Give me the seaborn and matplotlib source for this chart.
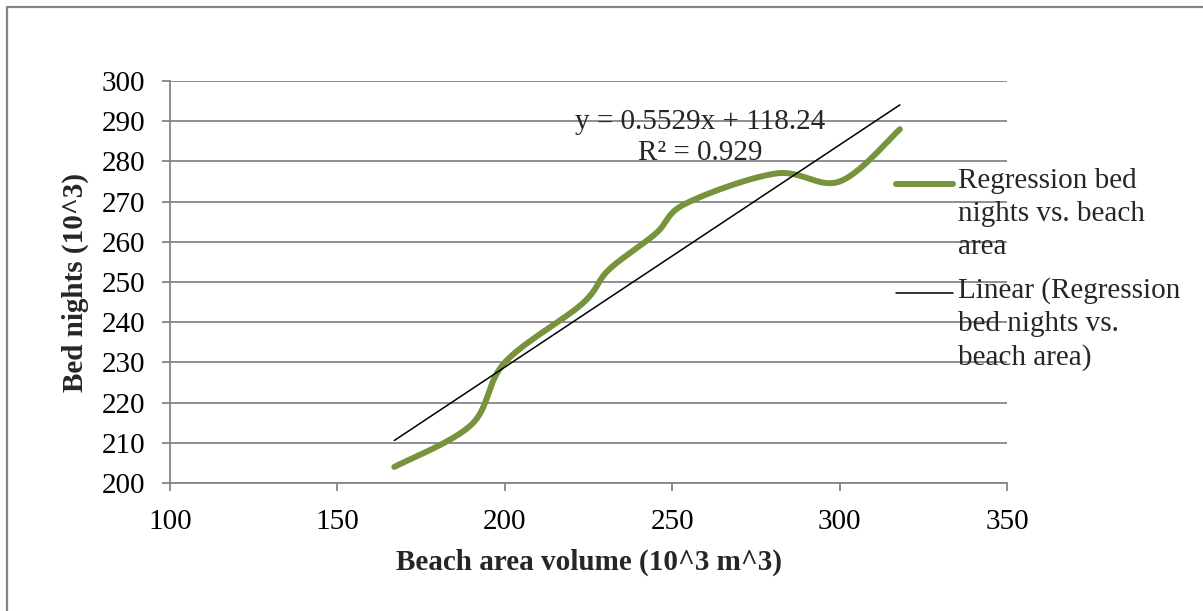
import numpy as np
import pandas as pd
import matplotlib
matplotlib.use("Agg")
import matplotlib.pyplot as plt
import seaborn as sns
from matplotlib.lines import Line2D

# ---- data ----
beach_area = [167, 190, 200, 223, 231, 245, 254, 281, 300, 318]
bed_nights = [204, 214.5, 230, 244.5, 253, 262, 269.5, 277, 275, 288]
slope = 0.5529
intercept = 118.24
r_squared = 0.929
x_ticks = [100, 150, 200, 250, 300, 350]
y_ticks = [200, 210, 220, 230, 240, 250, 260, 270, 280, 290, 300]
series_label = "Regression bed\nnights vs. beach\narea"
trend_label = "Linear (Regression\nbed nights vs.\nbeach area)"
x_label = "Beach area volume (10^3 m^3)"
y_label = "Bed nights (10^3)"

GREEN = "#77933C"
GRID = "#868686"
FS = 21


def smooth_curve(xs, ys, n=60):
    """Excel-like smoothed line (Catmull-Rom Bezier through the points)."""
    p = np.column_stack([xs, ys]).astype(float)
    out = []
    for i in range(len(p) - 1):
        p0 = p[i - 1] if i > 0 else p[i]
        p1 = p[i]
        p2 = p[i + 1]
        p3 = p[i + 2] if i + 2 < len(p) else p[i + 1]
        c1 = p1 + (p2 - p0) / 6.0
        c2 = p2 - (p3 - p1) / 6.0
        t = np.linspace(0, 1, n)[:, None]
        seg = ((1 - t) ** 3) * p1 + 3 * ((1 - t) ** 2) * t * c1 + 3 * (1 - t) * t ** 2 * c2 + t ** 3 * p2
        out.append(seg if i == 0 else seg[1:])
    return np.vstack(out)


sns.set_theme(style="white")
plt.rcParams["font.family"] = ["Liberation Serif", "DejaVu Serif"]

fig = plt.figure(figsize=(12.03, 6.11), dpi=100)
fig.patch.set_facecolor("white")
ax = fig.add_axes([170 / 1203, 1 - 483 / 611, 837 / 1203, 402 / 611])

curve = smooth_curve(beach_area, bed_nights)
df_curve = pd.DataFrame({"x": curve[:, 0], "y": curve[:, 1]})
sns.lineplot(data=df_curve, x="x", y="y", sort=False, estimator=None, ax=ax,
             color=GREEN, linewidth=4.3, solid_capstyle="round", zorder=3)

tx = np.array([min(beach_area), max(beach_area)], dtype=float)
df_trend = pd.DataFrame({"x": tx, "y": slope * tx + intercept})
sns.lineplot(data=df_trend, x="x", y="y", ax=ax, color="black", linewidth=1.1, zorder=4)

ax.set_xlim(100, 350)
ax.set_ylim(200, 300)
ax.set_xticks(x_ticks)
ax.set_yticks(y_ticks)
ax.set_xticklabels([str(v) for v in x_ticks])
ax.set_yticklabels([str(v) for v in y_ticks])

ax.yaxis.grid(True, color=GRID, linewidth=1.3)
ax.xaxis.grid(False)
ax.set_axisbelow(True)
for s in ["top", "right"]:
    ax.spines[s].set_visible(False)
for s in ["left", "bottom"]:
    ax.spines[s].set_color(GRID)
    ax.spines[s].set_linewidth(1.3)

ax.tick_params(axis="y", which="major", direction="out", length=5.8, width=1.3,
               color=GRID, pad=12, labelsize=FS, labelcolor="black", left=True)
ax.tick_params(axis="x", which="major", direction="out", length=5.8, width=1.3,
               color=GRID, pad=13, labelsize=FS, labelcolor="black", bottom=True)

ax.set_xlabel(x_label, fontsize=FS, fontweight="bold")
ax.set_ylabel(y_label, fontsize=FS, fontweight="bold")
ax.xaxis.label.set_verticalalignment("center")
ax.yaxis.label.set_verticalalignment("center")
ax.xaxis.set_label_coords(0.5, -(562 - 483) / 402)
ax.yaxis.set_label_coords((75 - 170) / 837, 0.5)

# trendline equation
ax.text(700 / 1203, 1 - 122 / 611, f"y = {slope}x + {intercept}", transform=fig.transFigure,
        ha="center", va="center", fontsize=FS)
ax.text(700 / 1203, 1 - 153 / 611, f"R² = {r_squared}", transform=fig.transFigure,
        ha="center", va="center", fontsize=FS)

# legend (Excel style: handle aligned with first text line)
fig.add_artist(Line2D([896 / 1203, 953 / 1203], [1 - 184 / 611, 1 - 184 / 611],
                      transform=fig.transFigure, color=GREEN, linewidth=4.3, solid_capstyle="round"))
fig.add_artist(Line2D([896 / 1203, 953 / 1203], [1 - 293 / 611, 1 - 293 / 611],
                      transform=fig.transFigure, color="black", linewidth=1.1))
fig.text(958 / 1203, 1 - 168 / 611, series_label, ha="left", va="top", fontsize=FS,
         linespacing=1.35)
fig.text(958 / 1203, 1 - 277 / 611, trend_label, ha="left", va="top", fontsize=FS,
         linespacing=1.35)

# outer chart border (top and left visible)
fig.add_artist(Line2D([7 / 1203, 1.0], [1 - 7 / 611, 1 - 7 / 611], transform=fig.transFigure,
                      color=GRID, linewidth=1.6))
fig.add_artist(Line2D([7 / 1203, 7 / 1203], [0, 1 - 7 / 611], transform=fig.transFigure,
                      color=GRID, linewidth=1.6))

fig.savefig("out.png", dpi=100)
